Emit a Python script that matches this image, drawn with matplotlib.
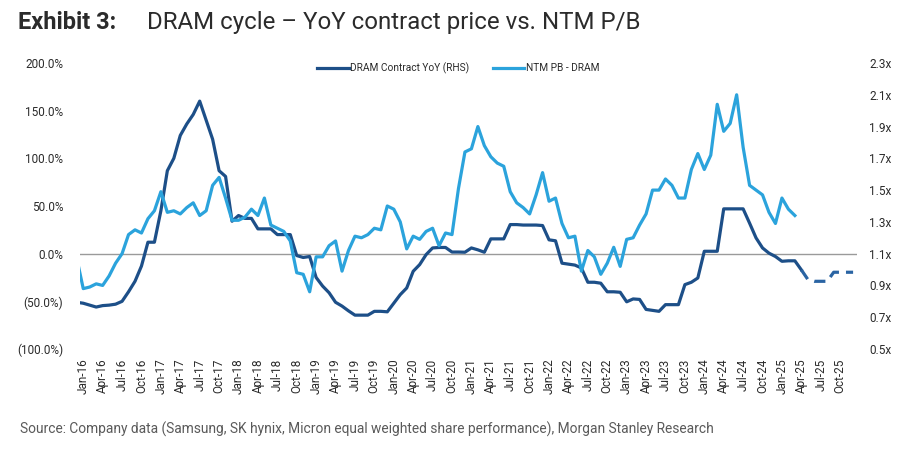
import matplotlib
matplotlib.use("Agg")
import matplotlib.pyplot as plt
import numpy as np
import pandas as pd

# monthly, Dec-15 .. Dec-25
months = pd.date_range("2015-12-01", "2025-12-01", freq="MS")

# DRAM contract price YoY (%), Dec-15 .. Apr-25
dram_yoy = [-51,
            -52, -54, -56, -54.5, -54, -53, -50, -40, -29, -13, 12, 12,
            45, 87, 100, 124, 136, 146, 160, 140, 120, 87, 81, 34,
            40, 37, 37, 26, 26, 26, 20, 20, 20, -2, -4, -3,
            -25, -34, -41, -51, -55, -60, -64.5, -64.5, -64.5, -60.5, -60.5, -61,
            -52, -43, -36, -18.5, -11.5, -1, 6, 6.5, 6.5, 1.7, 1.7, 1.5,
            6, 4, 1.5, 15.5, 15.5, 15.5, 30.5, 30.5, 30, 30, 30, 29.5,
            14.5, 13.5, -10, -11, -12, -15, -30, -30, -31, -40, -40, -40.5,
            -50.5, -47.5, -48, -58.5, -59.5, -60.5, -53.5, -53.5, -53.5, -32.5, -30, -25.5,
            2.5, 2.5, 2.5, 47, 47, 47, 47, 32, 16.5, 6, 0.5, -3,
            -8, -7.5, -7.5, -17]
# forecast, May-25 .. Dec-25
dram_fcst = [-27, -29, -29, -29, -19.5, -19.5, -19.5, -19.5]

# NTM P/B (x), Dec-15 .. Mar-25
ntm_pb = [1.07,
          0.88, 0.89, 0.91, 0.90, 0.96, 1.04, 1.10, 1.22, 1.25, 1.23, 1.32, 1.37,
          1.49, 1.36, 1.37, 1.35, 1.39, 1.42, 1.34, 1.37, 1.53, 1.58, 1.45, 1.31,
          1.31, 1.33, 1.38, 1.34, 1.45, 1.28, 1.26, 1.24, 1.18, 0.98, 0.97, 0.86,
          1.08, 1.08, 1.15, 1.18, 0.99, 1.12, 1.21, 1.20, 1.22, 1.26, 1.25, 1.40,
          1.38, 1.30, 1.13, 1.21, 1.19, 1.24, 1.26, 1.15, 1.23, 1.22, 1.51, 1.74,
          1.76, 1.90, 1.78, 1.71, 1.67, 1.65, 1.49, 1.42, 1.39, 1.35, 1.47, 1.61,
          1.43, 1.45, 1.29, 1.20, 1.21, 0.99, 1.12, 1.08, 0.97, 1.04, 1.14, 1.02,
          1.19, 1.20, 1.28, 1.35, 1.50, 1.50, 1.57, 1.53, 1.45, 1.45, 1.63, 1.73,
          1.63, 1.72, 2.04, 1.87, 1.92, 2.10, 1.77, 1.53, 1.50, 1.47, 1.36, 1.29,
          1.45, 1.38, 1.34]

left_ticks = [-100, -50, 0, 50, 100, 150, 200]
left_labels = ["(100.0%)", "(50.0%)", "0.0%", "50.0%", "100.0%", "150.0%", "200.0%"]
right_ticks = [0.5, 0.7, 0.9, 1.1, 1.3, 1.5, 1.7, 1.9, 2.1, 2.3]

plt.rcParams["font.family"] = ["Roboto", "DejaVu Sans"]

DARK = "#1d4f88"
LIGHT = "#2ba3dc"
TXT = "#2b2b2b"

fig = plt.figure(figsize=(9, 4.51), dpi=100)
ax = fig.add_axes([0.0889, 0.2262, 0.8633, 0.6341])
ax2 = ax.twinx()

x = np.arange(len(months))
n_act = len(dram_yoy)
ax.axhline(0, color="#9a9a9a", lw=1.0, zorder=1)
l1, = ax.plot(x[:n_act], dram_yoy, color=DARK, lw=2.3, solid_joinstyle="round",
              label="DRAM Contract YoY (RHS)", zorder=3)
ax.plot(x[n_act - 1:], [dram_yoy[-1]] + dram_fcst, color="#2a64a3", lw=2.3,
        dashes=(3.5, 2.2), zorder=3)
l2, = ax2.plot(x[:len(ntm_pb)], ntm_pb, color=LIGHT, lw=2.3,
               solid_joinstyle="round", label="NTM PB - DRAM", zorder=3)

ax.set_xlim(0.5, 120.6)
ax.set_ylim(-100, 200)
ax2.set_ylim(0.5, 2.3)

ax.set_yticks(left_ticks)
ax.set_yticklabels(left_labels)
ax2.set_yticks(right_ticks)
ax2.set_yticklabels([f"{v:.1f}x" for v in right_ticks])
tick_pos = x[1::3]
ax.set_xticks(tick_pos)
ax.set_xticklabels([m.strftime("%b-%y") for m in months[1::3]], rotation=90)

for a in (ax, ax2):
    for s in a.spines.values():
        s.set_visible(False)
    a.tick_params(length=0, labelsize=8.5, colors=TXT)
ax.tick_params(axis="y", pad=12)
ax2.tick_params(axis="y", pad=9)
ax.tick_params(axis="x", pad=7)

ax2.legend([l1, l2], [l1.get_label(), l2.get_label()], loc="center",
           bbox_to_anchor=(0.487, 0.983), ncol=2, frameon=False, fontsize=7.3,
           handlelength=3.1, columnspacing=2.3, handletextpad=0.15,
           labelcolor=TXT)

fig.text(0.02, 0.951, "Exhibit 3:", fontsize=17, fontweight="bold",
         color=TXT, va="center")
fig.text(0.163, 0.951, "DRAM cycle \u2013 YoY contract price vs. NTM P/B",
         fontsize=17.3, color=TXT, va="center")
fig.text(0.022, 0.047, "Source: Company data (Samsung, SK hynix, Micron equal "
         "weighted share performance), Morgan Stanley Research",
         fontsize=9.9, color="#5a5a5a", va="center")

fig.savefig("out.png", dpi=100)
